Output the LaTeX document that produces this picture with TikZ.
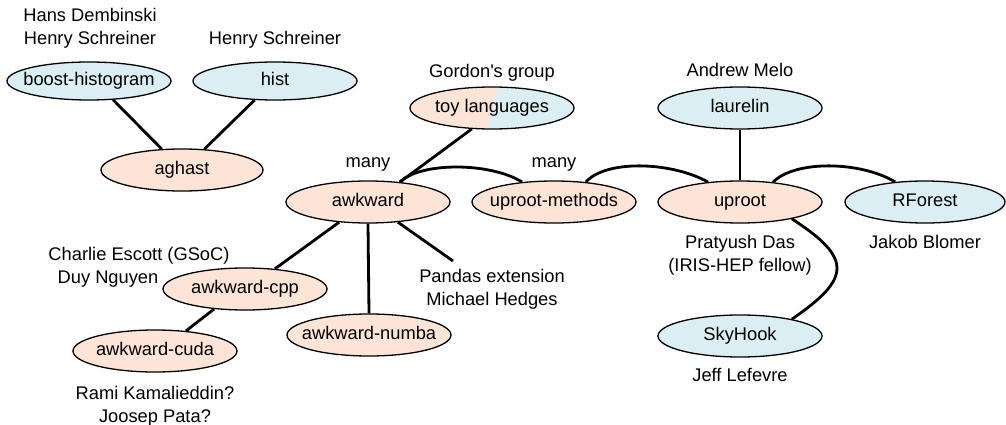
\documentclass[tikz,border=0pt]{standalone}
\usepackage{fontspec}
\setmainfont{Liberation Sans}
\usetikzlibrary{shapes.geometric,calc,backgrounds}
\definecolor{peach}{HTML}{FCE4D6}
\definecolor{lblue}{HTML}{DAEEF3}
\newcommand{\ztext}[1]{\makebox[0pt]{#1}}
\begin{document}
\begin{tikzpicture}[x=1pt,y=-1pt,
  every node/.style={font=\fontsize{18.3}{23}\selectfont, inner sep=0pt},
  ell/.style={ellipse, draw, line width=1.3pt, minimum width=164pt, minimum height=42pt, text height=13pt, text depth=4pt},
  pch/.style={ell, fill=peach},
  blu/.style={ell, fill=lblue},
  con/.style={line width=2.8pt},
  lbl/.style={anchor=base},
  lbln/.style={anchor=north, align=center}]
\useasboundingbox (0,0) rectangle (1006,425);
% ellipses
\node[blu, minimum height=38pt] (bh) at (89,81) {\ztext{boost-histogram}};
\node[blu, minimum height=38pt] (hist) at (275,81) {\ztext{hist}};
\node[pch, minimum width=162pt] (aghast) at (182,170) {\ztext{aghast}};
\node[ell, path picture={
  \fill[peach] (path picture bounding box.south west) rectangle (path picture bounding box.north east);
  \fill[lblue] ($(path picture bounding box.north)+(6,0)$) -- ($(path picture bounding box.south)+(-5,0)$)
     -- (path picture bounding box.south east) -- (path picture bounding box.north east) -- cycle;}]
  (toy) at (492,108) {\ztext{toy languages}};
\node[pch] (awk) at (368,202) {\ztext{awkward}};
\node[pch] (um) at (554,202) {\ztext{uproot-methods}};
\node[blu] (laurelin) at (740,108) {\ztext{laurelin}};
\node[pch] (uproot) at (740,202) {\ztext{uproot}};
\node[blu, minimum width=160pt] (rf) at (925,202) {\ztext{RForest}};
\node[blu] (sky) at (740,336) {\ztext{SkyHook}};
\node[pch] (cpp) at (245,289) {\ztext{awkward-cpp}};
\node[pch] (cuda) at (155,351) {\ztext{awkward-cuda}};
\node[pch] (numba) at (369,335) {\ztext{awkward-numba}};
% labels
\node[lbln] (lhans) at (90,8) {Hans Dembinski\\Henry Schreiner};
\node[lbl] (lhenry) at (275,44.5) {Henry Schreiner};
\node[lbl] (lgordon) at (492,77.5) {Gordon\textquotesingle s group};
\node[lbl] (lmany1) at (368,167.5) {many};
\node[lbl] (lmany2) at (554,167.5) {many};
\node[lbl] (landrew) at (740,76.5) {Andrew Melo};
\node[lbln] (lpratyush) at (740,235) {Pratyush Das\\(IRIS-HEP fellow)};
\node[lbl] (ljakob) at (925,248.5) {Jakob Blomer};
\node[lbl] (ljeff) at (740,381.5) {Jeff Lefevre};
\node[lbl] (lcharlie) at (139,260.5) {Charlie Escott (GSoC)};
\node[lbl] (lduy) at (108,283.5) {Duy Nguyen};
\node[lbln] (lpandas) at (492,269) {Pandas extension\\Michael Hedges};
\node[lbln] (lrami) at (155,386) {Rami Kamalieddin?\\Joosep Pata?};
\coordinate (pe) at (453,261);
% connectors
\begin{pgfonlayer}{background}
\fill[white] (0,0) rectangle (1006,425);
\draw[con] (bh.322) -- (aghast.134);
\draw[con] (hist.223) -- (aghast.43);
\draw[con] (toy.226) -- (awk.32);
\draw[con] (awk.32) .. controls (420,162) and (490,162) .. (um.148);
\draw[con] (um.32) .. controls (605,160) and (670,161) .. (uproot.148);
\draw[con] (laurelin.south) -- (uproot.north);
\draw[con] (uproot.31) .. controls (795,160) and (860,161) .. (rf.146);
\draw[con] (uproot.342) .. controls (852,258) and (852,278) .. (sky.18);
\draw[con] (awk.215) -- (cpp.34);
\draw[con] (cpp.213) -- (cuda.33);
\draw[con] (awk.south) -- (numba.north);
\draw[con] (awk.326) -- (pe);
\end{pgfonlayer}
\end{tikzpicture}
\end{document}
